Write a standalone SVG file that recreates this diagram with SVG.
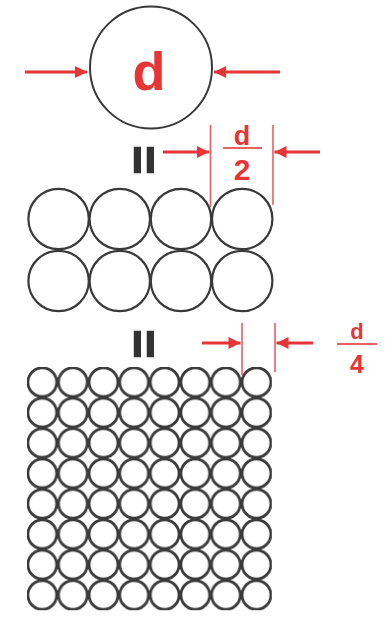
<svg xmlns="http://www.w3.org/2000/svg" width="385" height="620" viewBox="0 0 385 620">
  <defs>
    <style>
      .big { fill: none; stroke: #3a3a3a; stroke-width: 2; }
      .mid { fill: none; stroke: #3a3a3a; stroke-width: 2.2; }
      .dim { stroke: #e53535; stroke-width: 3; fill: none; }
      .ext { stroke: #e86060; stroke-width: 1.6; fill: none; }
      .bar { stroke: #e86060; stroke-width: 2; fill: none; }
      .red { fill: #e53535; font-family: "Liberation Sans", Arial, sans-serif; font-weight: bold; text-anchor: middle; }
      .eq { fill: #333333; stroke: #333333; stroke-width: 2; font-family: "Liberation Sans", Arial, sans-serif; font-weight: bold; font-size: 49px; text-anchor: middle; }
    </style>
    <marker id="ah" viewBox="0 0 10 10" refX="10" refY="5" markerWidth="4.5" markerHeight="4" markerUnits="strokeWidth" orient="auto">
      <path d="M0,0 L10,5 L0,10 Z" fill="#e53535"/>
    </marker>
    <pattern id="grid" x="27" y="367" width="30.6" height="30.4" patternUnits="userSpaceOnUse">
      <circle cx="15.3" cy="15.2" r="14.4" fill="none" stroke="#3a3a3a" stroke-width="2.8"/>
    </pattern>
  </defs>

  <g id="big-circle">
    <circle class="big" cx="151" cy="67.5" r="61"/>
    <text class="red" x="149" y="90" font-size="54">d</text>
  </g>

  <g id="equals-1">
    <text class="eq" transform="translate(144,160) rotate(90)" y="17">=</text>
  </g>

  <g id="equals-2">
    <text class="eq" transform="translate(144,344) rotate(90)" y="17">=</text>
  </g>

  <g id="mid-circles">
    <circle class="mid" cx="58.6" cy="219" r="30.2"/>
    <circle class="mid" cx="119.8" cy="219" r="30.2"/>
    <circle class="mid" cx="181" cy="219" r="30.2"/>
    <circle class="mid" cx="242.2" cy="219" r="30.2"/>
    <circle class="mid" cx="58.6" cy="281" r="30.2"/>
    <circle class="mid" cx="119.8" cy="281" r="30.2"/>
    <circle class="mid" cx="181" cy="281" r="30.2"/>
    <circle class="mid" cx="242.2" cy="281" r="30.2"/>
  </g>

  <g id="small-circles">
    <rect x="27" y="367" width="244.8" height="243.2" fill="url(#grid)"/>
  </g>

  <g id="label-d2">
    <text class="red" x="242" y="145" font-size="27">d</text>
    <line class="bar" x1="223" y1="148" x2="262" y2="148"/>
    <text class="red" x="242" y="180" font-size="30">2</text>
  </g>

  <g id="label-d4">
    <text class="red" x="357" y="339" font-size="22">d</text>
    <line class="bar" x1="337" y1="344" x2="377" y2="344"/>
    <text class="red" x="357" y="373" font-size="25">4</text>
  </g>

  <g id="connectors">
    <line class="dim" x1="25" y1="72" x2="87" y2="72" marker-end="url(#ah)"/>
    <line class="dim" x1="280" y1="72" x2="214" y2="72" marker-end="url(#ah)"/>

    <line class="ext" x1="210.5" y1="125" x2="210.5" y2="207"/>
    <line class="ext" x1="273" y1="125" x2="273" y2="205"/>
    <line class="dim" x1="163" y1="152" x2="209" y2="152" marker-end="url(#ah)"/>
    <line class="dim" x1="320" y1="152" x2="274.5" y2="152" marker-end="url(#ah)"/>

    <line class="ext" x1="242" y1="323" x2="242" y2="375"/>
    <line class="ext" x1="275" y1="323" x2="275" y2="372"/>
    <line class="dim" x1="202" y1="343" x2="240.5" y2="343" marker-end="url(#ah)"/>
    <line class="dim" x1="313" y1="343" x2="276.5" y2="343" marker-end="url(#ah)"/>
  </g>
</svg>
